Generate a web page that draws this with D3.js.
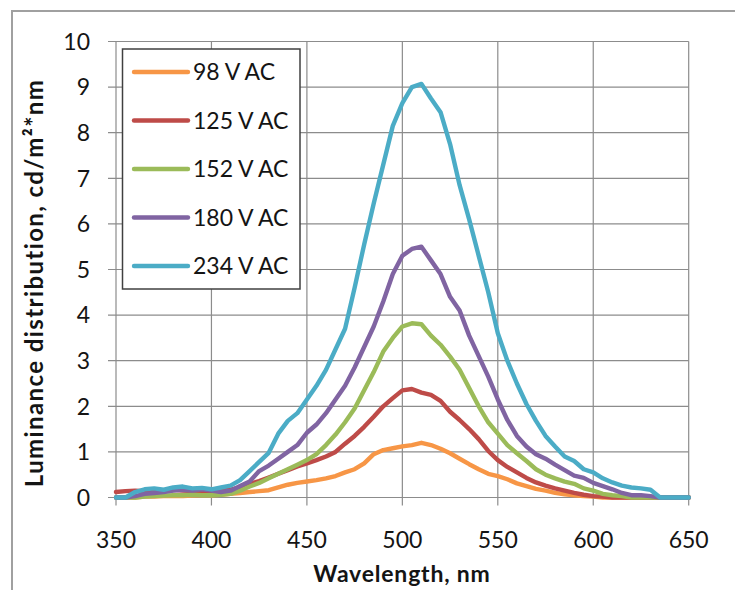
<!DOCTYPE html>
<html>
<head>
<meta charset="utf-8">
<script src="https://cdn.jsdelivr.net/npm/d3@7"></script>
<style>
  body { margin: 0; background: #fff; }
  svg { display: block; }
  text { font-family: Lato, "Open Sans", sans-serif; fill: #141414; }
</style>
</head>
<body>
<script>
// wavelength grid, nm
const wavelengths = [350, 355, 360, 365, 370, 375, 380, 385, 390, 395,
  400, 405, 410, 415, 420, 425, 430, 435, 440, 445,
  450, 455, 460, 465, 470, 475, 480, 485, 490, 495,
  500, 505, 510, 515, 520, 525, 530, 535, 540, 545,
  550, 555, 560, 565, 570, 575, 580, 585, 590, 595,
  600, 605, 610, 615, 620, 625, 630, 635, 640, 645, 650];

const v98 = [0, 0, 0, 0.02, 0.02, 0.03, 0.03, 0.03, 0.04, 0.05,
  0.05, 0.06, 0.08, 0.1, 0.12, 0.14, 0.16, 0.22, 0.28, 0.32,
  0.35, 0.38, 0.42, 0.47, 0.55, 0.62, 0.75, 0.95, 1.04, 1.08,
  1.12, 1.15, 1.2, 1.15, 1.07, 0.97, 0.85, 0.73, 0.62, 0.52,
  0.47, 0.4, 0.31, 0.25, 0.19, 0.15, 0.1, 0.07, 0.05, 0.03,
  0.02, 0, 0, 0, 0, 0, 0, 0, 0, 0, 0];

const v125 = [0.12, 0.14, 0.15, 0.14, 0.16, 0.15, 0.17, 0.15, 0.14, 0.13,
  0.14, 0.16, 0.17, 0.22, 0.3, 0.36, 0.44, 0.52, 0.6, 0.68,
  0.75, 0.82, 0.9, 1.0, 1.18, 1.35, 1.55, 1.77, 2.0, 2.18,
  2.35, 2.38, 2.3, 2.25, 2.12, 1.88, 1.7, 1.5, 1.28, 1.02,
  0.82, 0.67, 0.55, 0.43, 0.33, 0.26, 0.2, 0.15, 0.1, 0.06,
  0.03, 0.02, 0, 0, 0, 0, 0, 0, 0, 0, 0];

const v152 = [0, 0, 0, 0.02, 0.03, 0.04, 0.05, 0.05, 0.06, 0.05,
  0.05, 0.06, 0.08, 0.15, 0.24, 0.32, 0.42, 0.52, 0.62, 0.72,
  0.82, 0.95, 1.15, 1.38, 1.65, 1.95, 2.35, 2.75, 3.2, 3.5,
  3.75, 3.82, 3.8, 3.55, 3.35, 3.09, 2.8, 2.4, 2.0, 1.65,
  1.4, 1.15, 0.97, 0.8, 0.62, 0.5, 0.42, 0.35, 0.3, 0.2,
  0.15, 0.08, 0.05, 0.03, 0, 0, 0, 0, 0, 0, 0];

const v180 = [0, 0, 0.03, 0.08, 0.1, 0.12, 0.15, 0.17, 0.15, 0.18,
  0.15, 0.12, 0.15, 0.25, 0.35, 0.58, 0.7, 0.85, 1.0, 1.15,
  1.42, 1.6, 1.85, 2.15, 2.45, 2.85, 3.3, 3.75, 4.3, 4.9,
  5.3, 5.45, 5.5, 5.2, 4.9, 4.4, 4.1, 3.55, 3.1, 2.65,
  2.15, 1.7, 1.35, 1.12, 0.95, 0.85, 0.72, 0.6, 0.48, 0.43,
  0.32, 0.25, 0.18, 0.1, 0.05, 0.05, 0.03, 0, 0, 0, 0];

const v234 = [0, 0, 0.12, 0.18, 0.2, 0.17, 0.22, 0.24, 0.2, 0.21,
  0.18, 0.22, 0.26, 0.38, 0.58, 0.78, 0.98, 1.4, 1.68, 1.85,
  2.15, 2.45, 2.8, 3.25, 3.7, 4.6, 5.55, 6.45, 7.3, 8.15,
  8.65, 9.0, 9.07, 8.75, 8.45, 7.75, 6.85, 6.1, 5.3, 4.5,
  3.6, 3.0, 2.5, 2.05, 1.68, 1.35, 1.12, 0.9, 0.8, 0.62,
  0.55, 0.42, 0.33, 0.26, 0.22, 0.2, 0.17, 0, 0, 0, 0];

const seriesNames = ["98 V AC", "125 V AC", "152 V AC", "180 V AC", "234 V AC"];
const seriesValues = [v98, v125, v152, v180, v234];
const seriesColors = ["#F79646", "#BE4B48", "#9BBB59", "#8064A2", "#4BACC6"];

const xTicks = [350, 400, 450, 500, 550, 600, 650];
const yTicks = [0, 1, 2, 3, 4, 5, 6, 7, 8, 9, 10];

const W = 735, H = 590;
const svg = d3.select("body").append("svg")
  .attr("width", W)
  .attr("height", H);

// outer chart frame (runs off the right edge)
svg.append("path")
  .attr("d", "M12,592 L12,11 L740,11")
  .attr("fill", "none")
  .attr("stroke", "#a0a0a0")
  .attr("stroke-width", 2);

const x = d3.scaleLinear().domain([350, 650]).range([116, 688.7]);
const y = d3.scaleLinear().domain([0, 10]).range([497.5, 41.5]);

// gridlines
svg.append("g")
  .selectAll("line.h")
  .data(yTicks)
  .join("line")
    .attr("x1", x(350) - 8)
    .attr("x2", x(650))
    .attr("y1", d => y(d))
    .attr("y2", d => y(d))
    .attr("stroke", "#8c8c8c")
    .attr("stroke-width", 1.2);

svg.append("g")
  .selectAll("line.v")
  .data(xTicks)
  .join("line")
    .attr("x1", d => x(d))
    .attr("x2", d => x(d))
    .attr("y1", y(10))
    .attr("y2", y(0) + 8)
    .attr("stroke", "#8c8c8c")
    .attr("stroke-width", 1.2);

// tick labels
svg.append("g")
  .selectAll("text")
  .data(yTicks)
  .join("text")
    .attr("x", 90)
    .attr("y", d => y(d))
    .attr("dy", "0.36em")
    .attr("text-anchor", "end")
    .style("font-size", "23px")
    .text(d => d);

svg.append("g")
  .selectAll("text")
  .data(xTicks)
  .join("text")
    .attr("x", d => x(d))
    .attr("y", 547.5)
    .attr("text-anchor", "middle")
    .style("font-size", "23px")
    .text(d => d);

// axis titles
svg.append("text")
  .attr("x", 402)
  .attr("y", 582)
  .attr("text-anchor", "middle")
  .style("font-size", "23px")
  .style("font-weight", "bold")
  .style("letter-spacing", "0.8px")
  .text("Wavelength, nm");

svg.append("text")
  .attr("transform", "translate(43,283) rotate(-90)")
  .attr("text-anchor", "middle")
  .style("font-size", "24px")
  .style("font-weight", "bold")
  .style("letter-spacing", "1.4px")
  .text("Luminance distribution, cd/m²*nm");

// series lines
const line = d3.line()
  .x((d, i) => x(wavelengths[i]))
  .y(d => y(d));

svg.append("g")
  .selectAll("path")
  .data(seriesValues)
  .join("path")
    .attr("d", line)
    .attr("fill", "none")
    .attr("stroke", (d, i) => seriesColors[i])
    .attr("stroke-width", 4.4)
    .attr("stroke-linejoin", "round")
    .attr("stroke-linecap", "round");

// legend
const legend = svg.append("g");
legend.append("rect")
  .attr("x", 122.5)
  .attr("y", 49)
  .attr("width", 177.5)
  .attr("height", 240)
  .attr("fill", "#fff")
  .attr("stroke", "#404040")
  .attr("stroke-width", 1.5);

const rowY = [72, 120.5, 169, 217.5, 266];
const item = legend.selectAll("g.item")
  .data(seriesNames)
  .join("g")
    .attr("class", "item")
    .attr("transform", (d, i) => "translate(0," + rowY[i] + ")");

item.append("line")
  .attr("x1", 134)
  .attr("x2", 188)
  .attr("stroke", (d, i) => seriesColors[i])
  .attr("stroke-width", 4.4)
  .attr("stroke-linecap", "round");

item.append("text")
  .attr("x", 193)
  .attr("dy", "0.36em")
  .style("font-size", "23px")
  .text(d => d);
</script>
</body>
</html>
